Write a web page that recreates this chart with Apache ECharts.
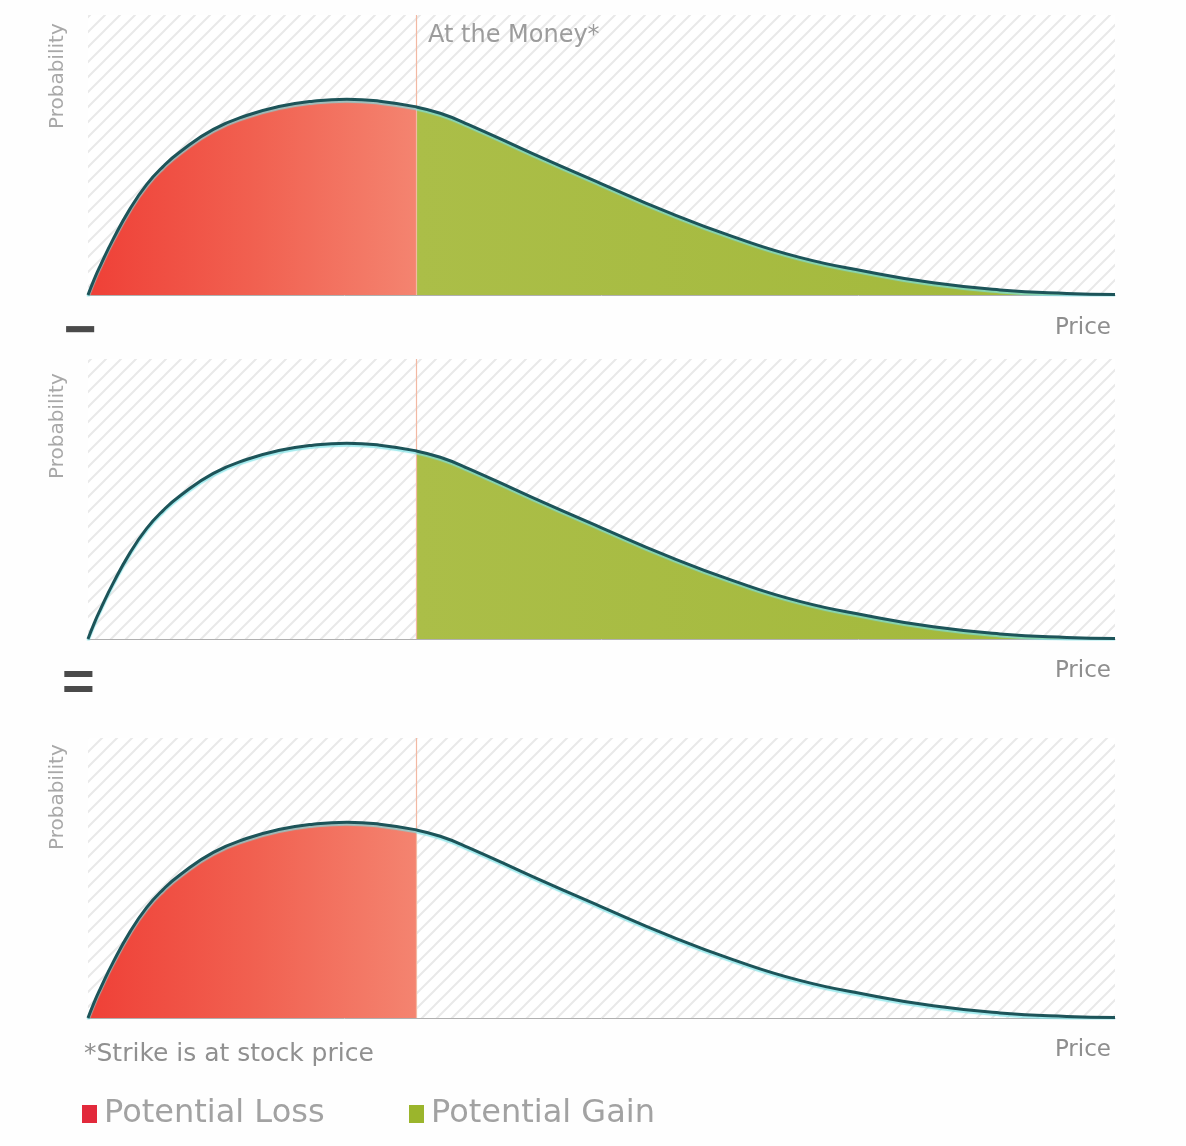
<!DOCTYPE html>
<html>
<head>
<meta charset="utf-8">
<script src="https://cdn.jsdelivr.net/npm/echarts@6/dist/echarts.min.js"></script>
<style>
html,body{margin:0;padding:0;background:#fefefe;}
#chart{width:1186px;height:1146px;}
</style>
</head>
<body>
<div id="chart"></div>
<script>
// ---- data ----
var price = [0, 0.6, 1.2, 2.4, 4.1, 5.7, 7.3, 9.0, 12.2, 15.5, 18.7, 21.9, 25.2, 28.4, 32, 34.3, 37.0, 43.3, 49.9, 56.4, 62.8, 69.3, 75.9, 82.3, 88.8, 95.3, 100];
var probability = [0, 0.08, 0.15, 0.28, 0.441, 0.564, 0.656, 0.733, 0.846, 0.918, 0.964, 0.99, 1.0, 0.99, 0.96, 0.928, 0.872, 0.722, 0.57, 0.424, 0.298, 0.192, 0.119, 0.062, 0.026, 0.008, 0.003];
var strike = 32;
var panelShows = [ { loss: true, gain: true }, { loss: false, gain: true }, { loss: true, gain: false } ];
var axisNameY = "Probability";
var axisNameX = "Price";
var strikeLabel = "At the Money*";
var footnote = "*Strike is at stock price";
var legendNames = ["Potential Loss", "Potential Gain"];
var operators = ["\u2212", "="];

// ---- build ----
var full = price.map(function (p, i) { return [p, probability[i]]; });
var lossData = full.filter(function (d) { return d[0] <= strike; });
var gainData = full.filter(function (d) { return d[0] >= strike; });

// hatch pattern
var tile = document.createElement('canvas');
tile.width = 15; tile.height = 15;
var c = tile.getContext('2d');
c.fillStyle = '#ffffff'; c.fillRect(0, 0, 15, 15);
c.strokeStyle = '#e9e9e9'; c.lineWidth = 2;
c.beginPath();
c.moveTo(-2, 17); c.lineTo(17, -2);
c.moveTo(-17, 17); c.lineTo(2, -2);
c.moveTo(13, 17); c.lineTo(32, -2);
c.stroke();
var hatch = { image: tile, repeat: 'repeat' };

var gridDefs = [ { top: 15, height: 280 }, { top: 359, height: 280 }, { top: 738, height: 280 } ];
var FONT = '"DejaVu Sans", sans-serif';
var SMOOTH = 0.5;

var grids = [], xAxes = [], yAxes = [], series = [];
gridDefs.forEach(function (g, i) {
  grids.push({ left: 88, right: 71, top: g.top, height: g.height, show: true, borderWidth: 0, backgroundColor: hatch });
  xAxes.push({ type: 'value', gridIndex: i, min: 0, max: 100,
    axisLine: { show: true, lineStyle: { color: '#b0b0b0', width: 1 } },
    axisTick: { show: false }, axisLabel: { show: false }, splitLine: { show: false } });
  yAxes.push({ type: 'value', gridIndex: i, min: 0, max: 1.43, show: false, splitLine: { show: false } });

  series.push({ type: 'line', name: 'strike' + i, xAxisIndex: i, yAxisIndex: i, z: 1,
    data: full, symbol: 'none', lineStyle: { opacity: 0 }, silent: true,
    markLine: { silent: true, symbol: 'none', label: { show: false },
      lineStyle: { color: '#f3b9a3', width: 1.2, type: 'solid' }, data: [{ xAxis: strike }] } });

  if (panelShows[i].loss) {
    series.push({ type: 'line', name: legendNames[0], xAxisIndex: i, yAxisIndex: i, z: 3,
      data: lossData, smooth: SMOOTH, symbol: 'none', lineStyle: { width: 0, opacity: 0 },
      itemStyle: { color: '#e2293b' },
      areaStyle: { opacity: 1, color: { type: 'linear', x: 0, y: 0, x2: 1, y2: 0,
        colorStops: [{ offset: 0, color: '#ef4037' }, { offset: 0.5, color: '#f16050' }, { offset: 1, color: '#f48470' }] } } });
  }
  if (panelShows[i].gain) {
    series.push({ type: 'line', name: legendNames[1], xAxisIndex: i, yAxisIndex: i, z: 3,
      data: gainData, smooth: SMOOTH, symbol: 'none', lineStyle: { width: 0, opacity: 0 },
      itemStyle: { color: '#9bb52c' },
      areaStyle: { opacity: 1, color: { type: 'linear', x: 0, y: 0, x2: 1, y2: 0,
        colorStops: [{ offset: 0, color: '#abbe48' }, { offset: 1, color: '#a2b83a' }] } } });
  }
  series.push({ type: 'line', name: 'curve' + i, xAxisIndex: i, yAxisIndex: i, z: 5,
    data: full, smooth: SMOOTH, symbol: 'none',
    lineStyle: { color: '#1d5459', width: 3, shadowColor: 'rgba(120,225,230,0.7)', shadowOffsetY: 2, shadowBlur: 1 } });
});

var graphics = [];
var probYs = [129, 479, 850];
probYs.forEach(function (y) {
  graphics.push({ type: 'text', x: 58, y: y, rotation: Math.PI / 2,
    style: { text: axisNameY, fill: '#a8a8a8', font: '20px ' + FONT, align: 'left', verticalAlign: 'middle' } });
});
var priceYs = [328, 671, 1050];
priceYs.forEach(function (y) {
  graphics.push({ type: 'text', x: 1111, y: y,
    style: { text: axisNameX, fill: '#8e8e8e', font: '23px ' + FONT, align: 'right', verticalAlign: 'middle' } });
});
graphics.push({ type: 'text', x: 428, y: 36,
  style: { text: strikeLabel, fill: '#9c9c9c', font: '24px ' + FONT, align: 'left', verticalAlign: 'middle' } });
graphics.push({ type: 'text', x: 64, y: 333,
  style: { text: operators[0], fill: '#4a4a4a', font: 'bold 56px "Liberation Sans", sans-serif', align: 'left', verticalAlign: 'middle' } });
graphics.push({ type: 'text', x: 62, y: 685,
  style: { text: operators[1], fill: '#4a4a4a', font: 'bold 56px "Liberation Sans", sans-serif', align: 'left', verticalAlign: 'middle' } });
graphics.push({ type: 'text', x: 84, y: 1054,
  style: { text: footnote, fill: '#909090', font: '25px ' + FONT, align: 'left', verticalAlign: 'middle' } });

var legendCommon = { top: 1093, icon: 'rect', itemWidth: 15, itemHeight: 18, selectedMode: false,
  textStyle: { fontFamily: FONT, fontSize: 32, color: '#a2a2a2', padding: [0, 0, 0, 2] } };
var chart = echarts.init(document.getElementById('chart'), null, { renderer: 'canvas' });
chart.setOption({
  backgroundColor: '#fefefe',
  animation: false,
  grid: grids,
  xAxis: xAxes,
  yAxis: yAxes,
  legend: [
    Object.assign({ left: 77, data: [ { name: legendNames[0], itemStyle: { color: '#e2293b' } } ] }, legendCommon),
    Object.assign({ left: 404, data: [ { name: legendNames[1], itemStyle: { color: '#9bb52c' } } ] }, legendCommon)
  ],
  series: series,
  graphic: graphics
});
</script>
</body>
</html>
